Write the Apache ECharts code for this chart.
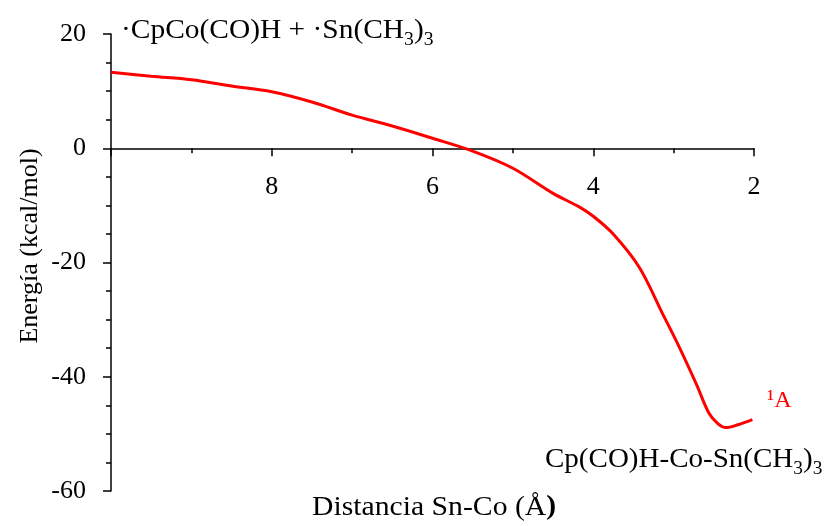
<!DOCTYPE html>
<html>
<head>
<meta charset="utf-8">
<script src="https://cdn.jsdelivr.net/npm/echarts@6/dist/echarts.min.js"></script>
<style>html,body{margin:0;padding:0;background:#fff;}#c{width:827px;height:526px;}</style>
</head>
<body>
<div id="c"></div>
<script>
var distance = [10, 9.5, 9, 8.5, 8, 7.5, 7, 6.5, 6, 5.5, 5, 4.5, 4.17, 4, 3.76, 3.43, 3.14, 2.93, 2.72, 2.56, 2.45, 2.35, 2.2, 2.02];
var energy   = [13.3, 12.6, 12.0, 10.9, 9.9, 8.1, 5.8, 3.9, 1.75, -0.5, -3.5, -7.9, -10.3, -11.9, -14.9, -20.8, -28.9, -34.8, -41.2, -46.4, -48.2, -48.9, -48.4, -47.5];
var xTicks = [2, 4, 6, 8];
var yTicks = [-60, -40, -20, 0, 20];

var FONT = '"Liberation Serif", "Times New Roman", serif';
var chart = echarts.init(document.getElementById('c'));
var pts = distance.map(function (d, i) { return [d, energy[i]]; });

chart.setOption({
  animation: false,
  grid: { left: 111, right: 73, top: 34, bottom: 35, outerBoundsMode: 'none' },
  xAxis: {
    type: 'value', inverse: true, min: 2, max: 10, interval: 2,
    axisLine: { onZero: true, lineStyle: { color: '#000', width: 1.5 } },
    axisTick: { length: 8, lineStyle: { color: '#000', width: 1.5 } },
    minorTick: { show: true, splitNumber: 2, length: 5, lineStyle: { color: '#000', width: 1.5 } },
    splitLine: { show: false },
    axisLabel: {
      margin: -317, fontSize: 26, fontFamily: FONT, color: '#000', showMaxLabel: false,
      formatter: function (v) { return xTicks.indexOf(v) >= 0 ? String(v) : ''; }
    }
  },
  yAxis: {
    type: 'value', min: -60, max: 20, interval: 20,
    axisLine: { show: true, onZero: false, lineStyle: { color: '#000', width: 1.5 } },
    axisTick: { show: true, length: 8, lineStyle: { color: '#000', width: 1.5 } },
    minorTick: { show: true, splitNumber: 4, length: 5, lineStyle: { color: '#000', width: 1.5 } },
    splitLine: { show: false },
    axisLabel: {
      margin: 25, fontSize: 26, fontFamily: FONT, color: '#000',
      formatter: function (v) { return yTicks.indexOf(v) >= 0 ? String(v) : ''; }
    }
  },
  series: [{
    type: 'line', data: pts, smooth: 0.35, showSymbol: false,
    lineStyle: { color: '#ff0000', width: 3 }
  }],
  graphic: [
    { type: 'text', x: 121, y: 44, scaleX: 1.09, style: {
      text: '{a|·CpCo(CO)H + ·Sn(CH}{s|3}{a|)}{s|3}', verticalAlign: 'bottom',
      rich: {
        a: { fontSize: 27, fontFamily: FONT, fill: '#000', lineHeight: 30, verticalAlign: 'bottom' },
        s: { fontSize: 18, fontFamily: FONT, fill: '#000', lineHeight: 24, verticalAlign: 'bottom', padding: [0, 0, -5, 0] }
      } } },
    { type: 'text', x: 545, y: 473, scaleX: 1.075, style: {
      text: '{a|Cp(CO)H-Co-Sn(CH}{s|3}{a|)}{s|3}', verticalAlign: 'bottom',
      rich: {
        a: { fontSize: 27, fontFamily: FONT, fill: '#000', lineHeight: 30, verticalAlign: 'bottom' },
        s: { fontSize: 18, fontFamily: FONT, fill: '#000', lineHeight: 24, verticalAlign: 'bottom', padding: [0, 0, -5, 0] }
      } } },
    { type: 'text', x: 767, y: 389, style: { text: '¹A', font: '24px ' + FONT, fill: '#ff0000' } },
    { type: 'text', x: 312, y: 521, scaleX: 1.1, style: {
      text: '{a|Distancia Sn-Co (Å}{b|)}', verticalAlign: 'bottom',
      rich: {
        a: { fontSize: 27, fontFamily: FONT, fill: '#000', lineHeight: 30, verticalAlign: 'bottom' },
        b: { fontSize: 27, fontFamily: FONT, fill: '#000', fontWeight: 'bold', lineHeight: 30, verticalAlign: 'bottom' }
      } } },
    { type: 'text', x: 30, y: 246, rotation: Math.PI / 2, style: {
      text: 'Energía (kcal/mol)', font: '26px ' + FONT, fill: '#000', align: 'center', verticalAlign: 'middle' } }
  ]
});
</script>
</body>
</html>
